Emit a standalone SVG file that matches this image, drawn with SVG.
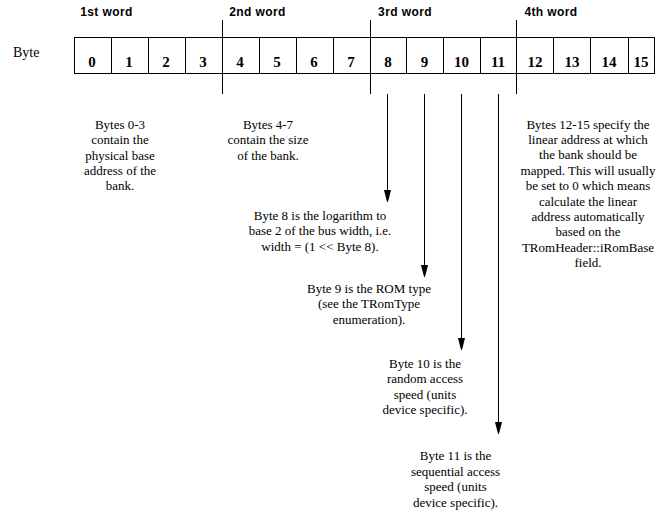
<svg xmlns="http://www.w3.org/2000/svg" width="667" height="518" viewBox="0 0 667 518">
<defs>
<style>
.w{font-family:"Liberation Sans",Arial,sans-serif;font-weight:bold;font-size:12px;fill:#000;text-anchor:middle;letter-spacing:0.4px}
.d{font-family:"Liberation Serif","Times New Roman",serif;font-weight:bold;font-size:15px;fill:#000;text-anchor:middle}
.t{font-family:"Liberation Serif","Times New Roman",serif;font-size:13px;fill:#000;text-anchor:middle}
.ln{stroke:#000;stroke-width:1;fill:none}
.cell{stroke:#000;stroke-width:1;fill:#fff}
</style>
<marker id="ah" markerWidth="12" markerHeight="8" refX="12" refY="4" orient="auto" markerUnits="userSpaceOnUse" viewBox="0 0 12 8">
<path d="M0,0.5 L0,7.5 L10,5 L12,4 L10,3 Z" fill="#000"/>
</marker>
</defs>
<rect width="667" height="518" fill="#fff"/>
<g id="word-labels">
<text class="w" x="106.5" y="16">1st word</text>
<text class="w" x="257.5" y="16">2nd word</text>
<text class="w" x="405" y="16">3rd word</text>
<text class="w" x="551" y="16">4th word</text>
</g>
<text id="byte-label" x="13" y="57" style="font-family:'Liberation Serif','Times New Roman',serif;font-size:14px;fill:#000">Byte</text>
<g id="bytes">
<rect class="cell" x="74.5" y="37.5" width="580" height="36"/>
<path class="ln" d="M111.5,37.5V73.5M148.5,37.5V73.5M185.5,37.5V73.5M259.5,37.5V73.5M296.5,37.5V73.5M333.5,37.5V73.5M406.5,37.5V73.5M443.5,37.5V73.5M480.5,37.5V73.5M553.5,37.5V73.5M590.5,37.5V73.5M628.5,37.5V73.5"/>
<text class="d" x="92" y="67">0</text>
<text class="d" x="129" y="67">1</text>
<text class="d" x="166" y="67">2</text>
<text class="d" x="203" y="67">3</text>
<text class="d" x="240" y="67">4</text>
<text class="d" x="277" y="67">5</text>
<text class="d" x="314" y="67">6</text>
<text class="d" x="351" y="67">7</text>
<text class="d" x="388" y="67">8</text>
<text class="d" x="424.5" y="67">9</text>
<text class="d" x="461.5" y="67">10</text>
<text class="d" x="498" y="67">11</text>
<text class="d" x="535" y="67">12</text>
<text class="d" x="572" y="67">13</text>
<text class="d" x="609" y="67">14</text>
<text class="d" x="641" y="67">15</text>
</g>
<g id="word-dividers">
<path class="ln" d="M222.5,20V94M370.5,20V94M516.5,20V94"/>
</g>
<g id="connectors">
<line class="ln" x1="387.5" y1="94" x2="387.5" y2="202" marker-end="url(#ah)"/>
<line class="ln" x1="424.5" y1="94" x2="424.5" y2="277" marker-end="url(#ah)"/>
<line class="ln" x1="461.5" y1="94" x2="461.5" y2="350" marker-end="url(#ah)"/>
<line class="ln" x1="498.5" y1="94" x2="498.5" y2="434" marker-end="url(#ah)"/>
</g>
<g id="note-bytes-0-3">
<text class="t" x="120" y="129">Bytes 0-3</text>
<text class="t" x="120" y="144.3">contain the</text>
<text class="t" x="120" y="159.6">physical base</text>
<text class="t" x="120" y="174.9">address of the</text>
<text class="t" x="120" y="190.2">bank.</text>
</g>
<g id="note-bytes-4-7">
<text class="t" x="268" y="129">Bytes 4-7</text>
<text class="t" x="268" y="144.3">contain the size</text>
<text class="t" x="268" y="159.6">of the bank.</text>
</g>
<g id="note-bytes-12-15">
<text class="t" x="588" y="128.5">Bytes 12-15 specify the</text>
<text class="t" x="588" y="143.9">linear address at which</text>
<text class="t" x="588" y="159.3">the bank should be</text>
<text class="t" x="588" y="174.7">mapped. This will usually</text>
<text class="t" x="588" y="190.1">be set to 0 which means</text>
<text class="t" x="588" y="205.5">calculate the linear</text>
<text class="t" x="588" y="220.9">address automatically</text>
<text class="t" x="588" y="236.3">based on the</text>
<text class="t" x="588" y="251.7">TRomHeader::iRomBase</text>
<text class="t" x="588" y="267.1">field.</text>
</g>
<g id="note-byte-8">
<text class="t" x="320" y="219.5">Byte 8 is the logarithm to</text>
<text class="t" x="320" y="235">base 2 of the bus width, i.e.</text>
<text class="t" x="320" y="250.5">width = (1 &lt;&lt; Byte 8).</text>
</g>
<g id="note-byte-9">
<text class="t" x="369" y="292.5">Byte 9 is the ROM type</text>
<text class="t" x="369" y="308">(see the TRomType</text>
<text class="t" x="369" y="323.5">enumeration).</text>
</g>
<g id="note-byte-10">
<text class="t" x="425" y="367.5">Byte 10 is the</text>
<text class="t" x="425" y="383">random access</text>
<text class="t" x="425" y="398.5">speed (units</text>
<text class="t" x="425" y="414">device specific).</text>
</g>
<g id="note-byte-11">
<text class="t" x="455.5" y="460">Byte 11 is the</text>
<text class="t" x="455.5" y="475.5">sequential access</text>
<text class="t" x="455.5" y="491">speed (units</text>
<text class="t" x="455.5" y="506.5">device specific).</text>
</g>
</svg>
